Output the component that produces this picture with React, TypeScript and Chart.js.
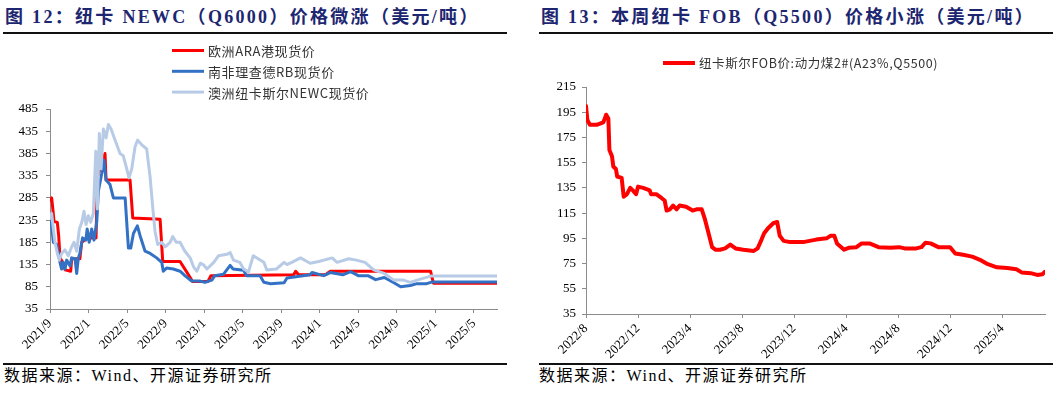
import React, { useEffect, useRef } from 'react';
import { Chart, registerables } from 'chart.js';

Chart.register(...registerables);

// ---------- Figure 12 (left): months elapsed since 2021/9/1 ----------
const leftTickLabels = ['2021/9', '2022/1', '2022/5', '2022/9', '2023/1', '2023/5', '2023/9', '2024/1', '2024/5', '2024/9', '2025/1', '2025/5'];

const araMonths = [0, 0.17, 0.27, 0.42, 0.76, 0.9, 1.04, 1.32, 1.56, 2.15, 2.25, 3.1, 3.29, 3.88, 4.78, 4.92, 5.3, 5.71, 5.82, 8.31, 8.59, 11.43, 11.7, 13.5, 14.2, 14.8, 16.4, 16.7, 25.3, 25.5, 25.8, 28.6, 29.1, 39.5, 39.8, 46.4];
const araPrices = [280, 285, 265, 232, 230, 200, 150, 140, 123, 120, 148, 148, 185, 195, 195, 330, 360, 385, 325, 325, 240, 237, 142, 142, 118, 97, 97, 110, 112, 120, 112, 112, 120, 120, 93, 93];

const rbMonths = [0, 0.17, 0.35, 0.7, 0.87, 1.04, 1.2, 1.39, 1.56, 1.73, 2.08, 2.25, 2.6, 2.77, 2.94, 3.1, 3.38, 3.72, 3.86, 4.07, 4.33, 4.57, 4.85, 5.02, 5.37, 5.6, 5.82, 6.23, 6.58, 7.8, 8.14, 8.38, 8.66, 9.07, 9.35, 9.87, 10.4, 11.07, 11.6, 11.76, 12.1, 12.8, 13.5, 14.0, 14.7, 15.5, 16.1, 16.8, 17.1, 18.0, 18.7, 19.0, 20.1, 20.4, 21.8, 22.2, 22.9, 24.3, 24.6, 27.0, 27.2, 28.4, 29.1, 30.4, 31.2, 32.0, 33.0, 33.8, 34.7, 35.7, 36.4, 37.4, 38.1, 39.1, 39.7, 46.4];
const rbPrices = [232, 222, 185, 180, 160, 140, 125, 140, 125, 145, 132, 150, 148, 115, 150, 160, 195, 190, 215, 185, 215, 190, 230, 300, 340, 370, 325, 315, 285, 285, 172, 172, 205, 222, 200, 165, 160, 150, 140, 120, 127, 125, 120, 110, 98, 98, 95, 100, 110, 113, 133, 125, 122, 110, 110, 95, 92, 94, 105, 112, 117, 110, 117, 112, 119, 110, 110, 101, 106, 94, 85, 88, 92, 92, 96, 96];

const newcMonths = [0, 0.17, 0.35, 0.52, 0.76, 0.97, 1.2, 1.56, 1.9, 2.25, 2.5, 2.77, 3.05, 3.3, 3.53, 3.74, 3.98, 4.22, 4.5, 4.75, 4.92, 5.12, 5.3, 5.54, 5.82, 6.06, 6.34, 6.75, 7.27, 7.6, 7.97, 8.2, 8.48, 8.83, 9.1, 9.5, 10.04, 10.4, 10.66, 10.9, 11.18, 11.6, 11.95, 12.47, 12.74, 13.1, 13.5, 14.0, 14.55, 14.9, 15.24, 15.6, 15.9, 16.3, 17.0, 17.5, 18.37, 18.7, 19.05, 19.7, 20.1, 20.6, 21.1, 21.6, 22.2, 22.5, 23.5, 24.3, 24.6, 25.1, 26.0, 27.0, 27.9, 29.3, 29.8, 31.0, 31.8, 32.7, 33.6, 34.7, 35.7, 36.7, 37.4, 38.1, 38.9, 39.5, 46.4];
const newcPrices = [240, 250, 215, 185, 160, 145, 160, 168, 155, 175, 185, 165, 215, 230, 255, 225, 245, 230, 250, 390, 260, 430, 350, 440, 420, 450, 440, 415, 385, 380, 350, 330, 350, 400, 415, 405, 395, 330, 265, 210, 180, 185, 175, 185, 198, 185, 185, 165, 150, 130, 120, 138, 135, 125, 140, 155, 158, 162, 145, 140, 125, 118, 155, 148, 140, 123, 125, 140, 135, 140, 150, 138, 142, 150, 140, 148, 145, 140, 123, 115, 100, 100, 95, 100, 105, 109, 109];

// ---------- Figure 13 (right): months elapsed since 2022/8/1 ----------
const rightTickLabels = ['2022/8', '2022/12', '2023/4', '2023/8', '2023/12', '2024/4', '2024/8', '2024/12', '2025/4'];

const fobMonths = [0, 0.1, 0.3, 0.82, 1.33, 1.45, 1.55, 1.72, 1.8, 2.0, 2.1, 2.3, 2.4, 2.74, 2.9, 3.15, 3.4, 3.6, 3.85, 4.0, 4.4, 4.9, 5.0, 5.4, 5.8, 6.05, 6.2, 6.46, 6.7, 6.97, 7.2, 7.7, 8.2, 8.5, 8.9, 9.15, 9.4, 9.7, 9.95, 10.3, 10.7, 11.1, 11.5, 12.1, 12.9, 13.2, 13.5, 13.7, 14.0, 14.4, 14.7, 14.9, 15.2, 15.7, 16.7, 17.7, 18.5, 18.8, 19.1, 19.3, 19.85, 20.2, 20.8, 21.2, 21.8, 22.5, 23.4, 24.1, 24.5, 25.4, 25.8, 26.1, 26.5, 27.1, 28.0, 28.4, 29.0, 29.7, 30.3, 30.8, 31.6, 32.4, 33.1, 33.5, 34.2, 34.7, 35.1, 35.3];
const fobPrices = [200, 189, 185, 185, 187, 190, 193, 190, 165, 160, 152, 150, 144, 143, 128, 130, 135, 133, 130, 136, 135, 133, 130, 130, 127, 125, 117, 118, 121, 118, 121, 120, 117, 118, 118, 110, 100, 88, 86, 86, 87, 90, 87, 86, 85, 87, 94, 99, 103, 107, 108, 97, 93, 92, 92, 94, 95, 97, 97, 91, 86, 87.5, 88, 91, 91, 88, 87.5, 88, 87, 87, 88, 91.5, 91, 88, 88, 83, 82, 80.5, 78, 75, 72, 71.5, 70.5, 68, 67.4, 66, 66.5, 68.5];

const leftTitle = '图 12：纽卡 NEWC（Q6000）价格微涨（美元/吨）';
const rightTitle = '图 13：本周纽卡 FOB（Q5500）价格小涨（美元/吨）';
const sourceText = '数据来源：Wind、开源证券研究所';

const SERIF = '"Liberation Serif", "Noto Sans CJK SC", serif';
const AXIS = '#8c8c8c';
const NAVY = '#1d2670';

const zip = (xs: number[], ys: number[]) => xs.map((x, i) => ({ x, y: ys[i] }));

const lineLegend = {
  id: 'lineLegend',
  afterDraw(chart: any, _args: any, opts: any) {
    const { ctx } = chart;
    ctx.save();
    ctx.font = opts.font;
    try { (ctx as any).letterSpacing = opts.letterSpacing; } catch (e) {}
    ctx.textBaseline = 'middle';
    ctx.textAlign = 'left';
    chart.data.datasets.forEach((ds: any, i: number) => {
      const y = opts.top + i * opts.rowHeight;
      const x = opts.left;
      ctx.strokeStyle = ds.borderColor;
      ctx.lineWidth = opts.lineWidth;
      ctx.lineCap = 'butt';
      ctx.beginPath();
      ctx.moveTo(x, y);
      ctx.lineTo(x + opts.swatch, y);
      ctx.stroke();
      ctx.fillStyle = opts.color;
      ctx.fillText(ds.label, x + opts.swatch + opts.gap, y + 0.5);
    });
    ctx.restore();
  },
};

function makeConfig(p: any): any {
  const tickFont = { family: SERIF, size: 13 };
  return {
    type: 'line',
    data: { datasets: p.datasets },
    options: {
      responsive: false,
      animation: false,
      events: [],
      layout: { padding: { top: p.padTop, right: p.padRight, left: 0, bottom: 0 } },
      elements: { point: { radius: 0 }, line: { tension: 0, borderJoinStyle: 'round', borderCapStyle: 'round' } },
      plugins: { legend: { display: false }, tooltip: { enabled: false }, lineLegend: p.legend },
      scales: {
        x: {
          type: 'linear',
          min: 0,
          max: p.xMax,
          grid: { display: true, drawOnChartArea: false, drawTicks: true, tickLength: 4, color: AXIS },
          border: { display: true, color: AXIS, width: 1 },
          ticks: {
            autoSkip: false,
            minRotation: 45,
            maxRotation: 45,
            padding: 3,
            color: '#000',
            font: tickFont,
            callback: (_v: any, i: number) => p.tickLabels[i],
          },
          afterBuildTicks: (s: any) => {
            s.ticks = p.tickLabels.map((_: string, i: number) => ({ value: i * 4 }));
          },
          afterFit: (s: any) => {
            s.height = p.xAxisHeight;
          },
        },
        y: {
          type: 'linear',
          min: p.yMin,
          max: p.yMax,
          grid: { display: true, drawOnChartArea: false, drawTicks: true, tickLength: 4, color: AXIS },
          border: { display: true, color: AXIS, width: 1 },
          ticks: { stepSize: p.yStep, padding: p.yPad, color: '#000', font: tickFont },
          afterFit: (s: any) => {
            s.width = p.yAxisWidth;
          },
        },
      },
    },
    plugins: [lineLegend],
  };
}

function ChartCanvas({ config, left, top, width, height }: any) {
  const ref = useRef<HTMLCanvasElement>(null);
  useEffect(() => {
    const chart = new Chart(ref.current as HTMLCanvasElement, config);
    return () => chart.destroy();
  }, []);
  return (
    <canvas
      ref={ref}
      width={width}
      height={height}
      style={{ position: 'absolute', left, top, width, height }}
    />
  );
}

const leftConfig = makeConfig({
  datasets: [
    { label: '欧洲ARA港现货价', data: zip(araMonths, araPrices), borderColor: '#ff0000', borderWidth: 3, order: 3 },
    { label: '南非理查德RB现货价', data: zip(rbMonths, rbPrices), borderColor: '#3371c4', borderWidth: 3, order: 2 },
    { label: '澳洲纽卡斯尔NEWC现货价', data: zip(newcMonths, newcPrices), borderColor: '#b8cbe6', borderWidth: 3, order: 1 },
  ],
  tickLabels: leftTickLabels,
  xMax: 46.4,
  yMin: 35,
  yMax: 485,
  yStep: 50,
  yPad: 8,
  padTop: 73,
  padRight: 13,
  xAxisHeight: 53,
  yAxisWidth: 50,
  legend: { left: 172, top: 14.5, rowHeight: 20.8, swatch: 32, gap: 4, lineWidth: 3, font: '13px "Noto Sans CJK SC"', letterSpacing: '0.6px', color: '#333' },
});

const rightConfig = makeConfig({
  datasets: [
    { label: '纽卡斯尔FOB价:动力煤2#(A23%,Q5500)', data: zip(fobMonths, fobPrices), borderColor: '#ff0000', borderWidth: 4 },
  ],
  tickLabels: rightTickLabels,
  xMax: 35.3,
  yMin: 35,
  yMax: 215,
  yStep: 20,
  yPad: 6,
  padTop: 51,
  padRight: 13,
  xAxisHeight: 48,
  yAxisWidth: 56,
  legend: { left: 133, top: 27, rowHeight: 0, swatch: 32, gap: 4, lineWidth: 4, font: '12.5px "Noto Sans CJK SC"', letterSpacing: '0.6px', color: '#333' },
});

const titleStyle: React.CSSProperties = {
  position: 'absolute',
  top: 6,
  font: `bold 18px ${SERIF}`,
  letterSpacing: '2.3px',
  color: NAVY,
  whiteSpace: 'nowrap',
  lineHeight: '22px',
};
const sourceStyle: React.CSSProperties = {
  position: 'absolute',
  top: 366,
  font: `16px ${SERIF}`,
  letterSpacing: '1.5px',
  color: '#000',
  whiteSpace: 'nowrap',
  lineHeight: '20px',
};
const rule = (left: number, top: number, width: number): React.CSSProperties => ({
  position: 'absolute',
  left,
  top,
  width,
  height: 2,
  background: '#111',
});

export default function App() {
  return (
    <div style={{ position: 'fixed', left: 0, top: 0, width: 1058, height: 394, background: '#fff', overflow: 'hidden' }}>
      <div style={{ ...titleStyle, left: 5 }}>{leftTitle}</div>
      <div style={rule(3, 32, 504)} />
      <ChartCanvas config={leftConfig} left={0} top={36} width={510} height={326} />
      <div style={rule(3, 363, 504)} />
      <div style={{ ...sourceStyle, left: 4 }}>{sourceText}</div>

      <div style={{ ...titleStyle, left: 541 }}>{rightTitle}</div>
      <div style={rule(539, 32, 514)} />
      <ChartCanvas config={rightConfig} left={530} top={36} width={528} height={326} />
      <div style={rule(539, 363, 514)} />
      <div style={{ ...sourceStyle, left: 539 }}>{sourceText}</div>
    </div>
  );
}
